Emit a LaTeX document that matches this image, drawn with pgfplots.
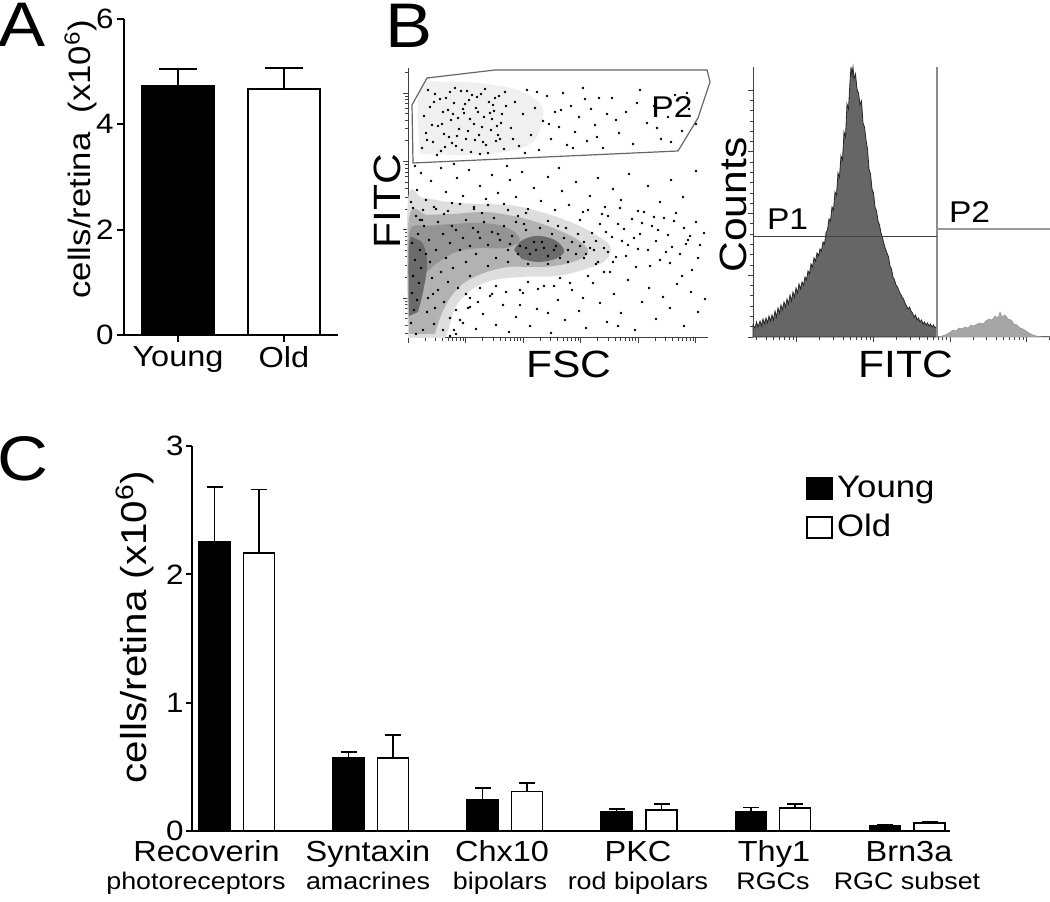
\documentclass[border=0pt]{standalone}
\usepackage{pgfplots}
\pgfplotsset{compat=1.18}
\usepackage{fontspec}
\setmainfont[FakeStretch=1.12]{Liberation Sans}
\newcommand{\fs}[1]{\fontsize{#1}{#1}\selectfont}
\begin{document}
\begin{tikzpicture}
\useasboundingbox (0pt,0pt) rectangle (525pt,450.5pt);
% ---------------- Panel A ----------------
\begin{axis}[at={(62pt,283pt)}, anchor=south west, scale only axis,
  width=107pt, height=158pt, xmin=0, xmax=214, ymin=0, ymax=6,
  axis lines=left, axis line style={-, line width=1pt},
  tick align=outside, major tick length=3.5pt, tick style={line width=1pt, black},
  ytick={0,2,4,6}, xtick={54,160}, xticklabels={Young,Old},
  /pgf/number format/assume math mode=true,
  yticklabel style={font=\fs{14}, inner sep=1.5pt},
  xticklabel style={font=\fs{14.5}, inner sep=2pt},
  ybar, bar width=36pt, bar shift=0pt, clip=false]
\addplot[fill=black, draw=black, line width=1pt,
  error bars/.cd, y dir=plus, y explicit, error bar style={line width=1pt},
  error mark options={rotate=90, mark size=9.5pt, line width=1pt}]
  coordinates {(54,4.733) +- (0,0.317)};
\addplot[fill=white, draw=black, line width=1pt,
  error bars/.cd, y dir=plus, y explicit, error bar style={line width=1pt},
  error mark options={rotate=90, mark size=9.5pt, line width=1pt}]
  coordinates {(160,4.665) +- (0,0.405)};
\end{axis}
\node[font=\fs{31.5}, anchor=base] at (11.25pt,427pt) {A};
\node[rotate=90, anchor=base, font=\fs{15.5}] at (45pt,371pt) {cells/retina\ \ (x10\textsuperscript{6})};
% ---------------- Panel B: scatter ----------------
\begin{axis}[at={(204pt,281.5pt)}, anchor=south west, scale only axis,
  width=150pt, height=135pt, xmin=0, xmax=300, ymin=0, ymax=270,
  axis lines=left, axis line style={-, line width=0.5pt, black!75},
  tick align=outside, major tick length=2.5pt, minor tick length=1.3pt,
  tick style={line width=0.4pt, black!75},
  xtick={0,57.5,115,172.5,230,287.5},
  minor xtick={17.3,27.4,34.6,40.2,44.7,48.6,51.9,54.9,74.8,84.9,92.1,97.7,102.2,106.1,109.4,112.4,132.3,142.4,149.6,155.2,159.7,163.6,166.9,169.9,189.8,199.9,207.1,212.7,217.2,221.1,224.4,227.4,247.3,257.4,264.6,270.2,274.7,278.6,281.9,284.9},
  ytick={40,108.3,176.6,244.9},
  minor ytick={4.3,12.8,19.4,24.8,29.4,33.4,36.9,60.6,72.6,81.1,87.7,93.1,97.7,101.7,105.2,128.9,140.9,149.4,156.0,161.4,166.0,170.0,173.5,197.2,209.2,217.7,224.3,229.7,234.3,238.3,241.8,265.5},
  xticklabels={}, yticklabels={}, clip=false]
% density envelopes of the event cloud
\addplot[smooth, tension=0.6, fill=black!6, draw=none] coordinates {(12,184) (12,250) (40,256) (80,254) (115,246) (135,228) (125,196) (90,185) (50,183)} -- cycle;
\addplot[smooth, tension=0.6, fill=black!13, draw=none] coordinates {(0,0) (0,138) (15,140) (40,136) (70,134) (100,133) (130,127) (160,117) (185,105) (202,92) (198,78) (178,69) (148,62) (112,61) (82,57) (62,47) (47,30) (41,10) (37,0)} -- cycle;
\addplot[smooth, tension=0.6, fill=black!30, draw=none] coordinates {(1,4) (1,120) (20,123) (45,124) (75,126) (100,123) (125,117) (150,108) (170,98) (180,87) (170,78) (146,72) (120,71) (100,71) (76,65) (56,55) (42,40) (32,20) (27,4)} -- cycle;
\addplot[smooth, tension=0.6, fill=black!42, draw=none] coordinates {(2,60) (2,108) (20,112) (45,114) (75,115) (100,110) (112,98) (98,90) (72,90) (48,86) (28,74) (15,62)} -- cycle;
\addplot[smooth, tension=0.6, fill=black!58, draw=none] coordinates {(106,88) (113,97) (127,102) (142,100) (152,94) (156,86) (147,79) (130,76) (114,79)} -- cycle;
\addplot[smooth, tension=0.6, fill=black!58, draw=none] coordinates {(1,22) (1,94) (8,99) (16,92) (19,72) (15,46) (10,26)} -- cycle;
% events inside the cloud
\addplot[only marks, mark=*, mark size=0.4pt, mark options={draw=none, fill=black!80}] table[row sep=\\] {x y\\
3 15\\ 6 28\\ 4 45\\ 9 38\\ 5 62\\ 11 55\\ 7 78\\ 13 70\\ 4 95\\ 10 104\\ 16 112\\ 21 98\\ 18 84\\ 24 60\\ 20 40\\ 27 30\\ 30 48\\ 33 66\\ 28 88\\ 35 104\\ 38 80\\ 42 95\\ 45 70\\ 40 56\\ 48 108\\ 52 88\\ 55 100\\ 58 76\\ 62 92\\ 65 110\\ 68 84\\ 72 100\\ 76 116\\ 80 93\\ 84 106\\ 88 80\\ 92 98\\ 96 112\\ 100 88\\ 104 102\\ 108 116\\ 112 92\\ 118 108\\ 122 84\\ 126 96\\ 132 110\\ 136 90\\ 140 82\\ 144 104\\ 148 92\\ 152 80\\ 156 100\\ 160 88\\ 164 96\\ 168 84\\ 172 92\\ 176 80\\ 160 76\\ 140 74\\ 120 74\\ 100 76\\ 80 72\\ 62 62\\ 50 50\\ 36 36\\ 26 14\\ 15 8\\ 8 4\\ 19 26\\ 25 44\\ 14 118\\ 30 116\\ 58 118\\ 86 120\\ 116 114\\ 128 88\\ 134 96\\ 118 90\\ 146 88\\ 110 84\\ 102 94\\ 90 104\\ 70 106\\ 44 112\\ 22 76\\ 12 88\\
};
% gate events
\addplot[only marks, mark=*, mark size=0.35pt, mark options={draw=none, fill=black!55}] table[row sep=\\] {x y\\
14 190\\ 18 205\\ 22 231\\ 25 196\\ 27 244\\ 30 212\\ 33 187\\ 35 226\\ 38 240\\ 41 201\\ 43 218\\ 46 235\\ 48 192\\ 51 209\\ 53 247\\ 56 225\\ 58 199\\ 61 238\\ 63 186\\ 66 214\\ 68 230\\ 71 203\\ 73 244\\ 76 221\\ 78 193\\ 81 236\\ 83 208\\ 86 227\\ 88 197\\ 91 242\\ 93 215\\ 96 189\\ 98 232\\ 16 222\\ 20 248\\ 24 213\\ 29 183\\ 32 239\\ 36 204\\ 40 228\\ 44 195\\ 47 250\\ 50 220\\ 54 188\\ 57 234\\ 60 207\\ 64 243\\ 67 198\\ 70 226\\ 74 211\\ 77 249\\ 80 185\\ 84 219\\ 87 240\\ 90 203\\ 94 224\\ 97 246\\ 19 198\\ 26 236\\ 34 214\\ 42 246\\ 49 202\\ 55 229\\ 62 219\\ 69 241\\ 75 196\\ 82 225\\ 89 212\\ 37 191\\ 45 224\\ 59 247\\ 72 184\\ 85 233\\ 92 199\\
103 210\\ 107 236\\ 111 192\\ 115 224\\ 119 248\\ 123 203\\ 127 230\\ 131 188\\ 135 217\\ 139 242\\ 143 199\\ 147 226\\ 151 211\\ 155 245\\ 159 193\\ 163 232\\ 167 206\\ 171 221\\ 175 250\\ 179 197\\ 183 229\\ 187 213\\ 191 240\\ 195 190\\ 199 224\\ 105 199\\ 117 185\\ 129 246\\ 141 214\\ 153 228\\ 165 190\\ 177 239\\ 189 201\\
204 240\\ 211 205\\ 218 226\\ 225 194\\ 232 248\\ 239 215\\ 246 232\\ 253 199\\ 260 221\\ 267 243\\ 274 207\\ 281 229\\ 288 214\\ 208 218\\ 229 235\\ 249 210\\ 263 196\\ 279 245\\
};
% other sparse events
\addplot[only marks, mark=*, mark size=0.35pt, mark options={draw=none, fill=black!65}] table[row sep=\\] {x y\\
5 130\\ 9 148\\ 13 165\\ 18 138\\ 23 157\\ 28 129\\ 33 170\\ 38 146\\ 44 135\\ 49 160\\ 55 142\\ 61 168\\ 66 131\\ 72 152\\ 78 139\\ 84 163\\ 90 145\\ 96 134\\ 102 158\\ 108 141\\ 114 166\\ 120 129\\ 126 150\\ 133 137\\ 140 161\\ 147 128\\ 154 147\\ 161 133\\ 168 156\\ 175 126\\ 182 142\\ 190 160\\ 197 131\\ 205 149\\ 213 138\\ 221 164\\ 230 127\\ 240 152\\ 252 136\\ 263 158\\ 275 141\\ 288 167\\ 7 172\\ 46 174\\ 99 172\\ 151 170\\
172 118\\ 176 96\\ 180 128\\ 184 105\\ 188 74\\ 192 114\\ 196 90\\ 200 122\\ 204 101\\ 208 81\\ 212 130\\ 216 109\\ 220 93\\ 224 119\\ 228 71\\ 232 104\\ 236 126\\ 240 88\\ 244 112\\ 248 97\\ 252 78\\ 256 120\\ 260 103\\ 264 91\\ 268 125\\ 272 84\\ 276 110\\ 280 98\\ 284 68\\ 288 116\\ 292 93\\ 296 105\\ 186 88\\ 194 124\\ 202 66\\ 210 114\\ 218 82\\ 226 100\\ 234 115\\ 242 72\\ 250 108\\ 258 86\\ 266 117\\ 274 62\\ 282 102\\ 290 80\\ 178 84\\ 198 106\\ 214 97\\ 230 89\\ 246 121\\ 262 75\\ 278 94\\
35 8\\ 42 20\\ 48 4\\ 55 15\\ 62 31\\ 68 9\\ 75 24\\ 82 42\\ 88 13\\ 95 33\\ 101 6\\ 108 21\\ 115 45\\ 122 12\\ 129 29\\ 136 52\\ 143 5\\ 150 38\\ 157 18\\ 164 48\\ 171 27\\ 178 10\\ 185 55\\ 192 35\\ 199 16\\ 206 44\\ 213 25\\ 220 58\\ 227 8\\ 234 36\\ 241 50\\ 248 19\\ 255 41\\ 262 30\\ 269 54\\ 276 12\\ 283 46\\ 290 26\\ 297 39\\ 58 44\\ 72 50\\ 112 33\\ 140 25\\ 175 40\\ 210 12\\
8 122\\ 15 128\\ 26 131\\ 40 127\\ 52 134\\ 66 129\\ 80 133\\ 100 128\\ 118 125\\ 140 117\\ 158 110\\ 170 104\\ 188 97\\ 200 86\\ 205 76\\ 196 66\\ 180 62\\ 162 55\\ 146 52\\ 130 49\\ 112 48\\ 98 46\\ 84 44\\ 70 36\\ 60 30\\ 52 18\\ 46 8\\ 42 2\\ 3 136\\ 12 118\\ 36 124\\ 74 125\\ 110 122\\ 150 112\\ 182 90\\ 190 76\\ 152 60\\ 120 56\\ 88 52\\ 62 40\\ 48 28\\
};
% gate P2
\addplot[black!60, line width=0.6pt] coordinates {(4,233) (19,260) (87,268) (299,268) (302,256) (290,220) (270,187) (5,175)} -- cycle;
\end{axis}
\node[font=\fs{31.5}, anchor=base] at (204.5pt,426.5pt) {B};
\node[font=\fs{15}, anchor=base] at (336pt,391.5pt) {P2};
\node[rotate=90, anchor=base, font=\fs{19}] at (200pt,350pt) {FITC};
\node[anchor=base, font=\fs{19}] at (284.5pt,261.5pt) {FSC};
% ---------------- Panel B: histogram ----------------
\begin{axis}[at={(376.5pt,282pt)}, anchor=south west, scale only axis,
  width=148.5pt, height=135pt, xmin=0, xmax=297, ymin=0, ymax=270,
  axis lines=left, axis line style={-, line width=0.5pt, black!75},
  tick align=outside, major tick length=2.5pt, minor tick length=1.3pt,
  tick style={line width=0.4pt, black!75},
  xtick={43.7,120.3,197,273.7},
  minor xtick={3.6,13.2,20.6,26.7,31.8,36.3,40.2,66.8,80.3,89.9,97.3,103.4,108.5,113.0,116.9,143.4,156.9,166.5,173.9,180.0,185.1,189.6,193.5,220.1,233.6,243.2,250.6,256.7,261.8,266.3,270.2,296.8},
  ytick={0,61.7,123.4,185.1,246.8}, minor y tick num=5,
  xticklabels={}, yticklabels={}, clip=false]
\addplot[fill=black!60, draw=black!85, line width=0.4pt] coordinates {(0,0) (0,12) (2,9) (3.5,15) (5,10) (7,16) (8.5,11) (10,18) (11.5,13) (13,19) (14.5,14) (16,21) (17.5,16) (19,22) (20.5,17) (22,26) (23.5,20) (25,29) (26.5,24) (28,32) (29.5,27) (31,35) (32.5,30) (34,38) (35.5,33) (37,42) (38.5,36) (40,45) (41.5,40) (43,49) (44.5,44) (46,53) (47.5,48) (49,55) (50.5,52) (52,60) (53.5,57) (55,66) (56.5,63) (58,73) (59.5,70) (61,79) (62.5,76) (64,84) (65.5,81) (67,88) (68.5,86) (70,95) (71.5,93) (73,104) (74.5,107) (76,118) (77.5,116) (79,130) (80.5,127) (82,145) (83.5,142) (85,164) (86.5,160) (88,181) (89.5,177) (91,205) (92.5,200) (94,233) (95.5,228) (97,255) (98,270) (99,262) (100,270) (101,258) (102.5,263) (104,248) (105.5,244) (107,232) (108.5,236) (110,214) (111.5,210) (113,197) (114.5,188) (116,168) (117.5,163) (119,148) (120.5,144) (122,130) (123.5,126) (125,116) (126.5,112) (128,104) (129.5,99) (131,93) (132.5,88) (134,84) (135.5,80) (137,71) (138.5,68) (140,60) (141.5,57) (143,52) (144.5,50) (146,46) (147.5,43) (149,40) (150.5,38) (152,34) (153.5,31) (155,28) (156.5,30) (158,26) (159.5,24) (161,20) (162.5,22) (164,17) (165.5,19) (167,15) (168.5,17) (170,13) (171.5,15) (173,12) (174.5,14) (176,11) (177.5,13) (179,10) (180.5,12) (182,9) (184,11) (184,0)} -- cycle;
\addplot[fill=black!35, draw=black!40, line width=0.3pt] coordinates {(184,0) (188,0.5) (192,2) (196,4) (200,7) (203,6) (206,9) (209,8) (212,10) (215,9) (218,12) (221,11) (224,13) (227,14) (230,13) (233,16) (236,18) (239,17) (242,21) (245,19) (247,25) (249,20) (252,22) (255,18) (258,17) (261,13) (264,12) (267,9) (270,8) (273,6) (276,4) (280,2) (285,0.5) (290,0) (297,0)} -- cycle;
\addplot[black!45, line width=0.7pt] coordinates {(184,0) (184,270)};
\addplot[black!75, line width=0.5pt] coordinates {(0,100) (184,100)};
\addplot[black!40, line width=0.9pt] coordinates {(184,108) (297,108)};
\end{axis}
\node[font=\fs{15}, anchor=base west] at (380pt,335.5pt) {P1};
\node[font=\fs{15}, anchor=base west] at (471pt,339pt) {P2};
\node[rotate=90, anchor=base, font=\fs{19}] at (373pt,348pt) {Counts};
\node[anchor=base, font=\fs{19}] at (453pt,261.5pt) {FITC};
% ---------------- Panel C ----------------
\begin{axis}[at={(96pt,35pt)}, anchor=south west, scale only axis,
  width=379pt, height=192.5pt, xmin=0, xmax=758, ymin=0, ymax=3,
  axis lines=left, axis line style={-, line width=1pt},
  tick align=outside, major tick length=3pt, tick style={line width=1pt, black},
  ytick={0,1,2,3}, xtick=\empty,
  /pgf/number format/assume math mode=true,
  yticklabel style={font=\fs{14}, inner sep=1pt},
  ybar, bar width=15.5pt, bar shift=0pt, clip=false,
  legend style={at={(axis cs:614,2.8)}, anchor=north west, draw=none, fill=none,
    inner sep=0pt, font=\fs{15.5}, row sep=3pt, cells={anchor=west}},
  legend image code/.code={\draw[#1, line width=0.9pt] (0pt,-5.25pt) rectangle (12.5pt,5.25pt);}]
\addplot[fill=black, draw=black, line width=0.8pt,
  error bars/.cd, y dir=plus, y explicit, error bar style={line width=0.8pt},
  error mark options={rotate=90, mark size=4pt, line width=0.8pt}]
  coordinates {(22.5,2.25) +- (0,0.43) (156.5,0.574) +- (0,0.042) (290.5,0.244) +- (0,0.089) (424.5,0.153) +- (0,0.018) (559,0.150) +- (0,0.032) (693,0.044) +- (0,0.008)};
\addlegendentry{Young}
\addplot[fill=white, draw=black, line width=0.8pt,
  error bars/.cd, y dir=plus, y explicit, error bar style={line width=0.8pt},
  error mark options={rotate=90, mark size=4pt, line width=0.8pt}]
  coordinates {(67,2.165) +- (0,0.495) (201,0.567) +- (0,0.181) (335,0.309) +- (0,0.063) (469.5,0.164) +- (0,0.046) (603,0.177) +- (0,0.033) (737.5,0.062) +- (0,0.013)};
\addlegendentry{Old}
\end{axis}
\node[font=\fs{31.5}, anchor=base] at (11.5pt,210pt) {C};
\node[rotate=90, anchor=base, font=\fs{18}] at (73pt,137pt) {cells/retina (x10\textsuperscript{6})};
\begin{scope}[font=\fs{14.5}]
\node[anchor=base] at (103.3pt,20pt) {Recoverin};
\node[anchor=base] at (184pt,20pt) {Syntaxin};
\node[anchor=base] at (251pt,20pt) {Chx10};
\node[anchor=base] at (319pt,20pt) {PKC};
\node[anchor=base] at (387pt,20pt) {Thy1};
\node[anchor=base] at (454.5pt,20pt) {Brn3a};
\end{scope}
\begin{scope}[font=\fs{12}]
\node[anchor=base] at (98pt,6pt) {photoreceptors};
\node[anchor=base] at (184pt,6pt) {amacrines};
\node[anchor=base] at (250pt,6pt) {bipolars};
\node[anchor=base] at (319pt,6pt) {rod bipolars};
\node[anchor=base] at (386.5pt,6pt) {RGCs};
\node[anchor=base] at (453.5pt,6pt) {RGC subset};
\end{scope}
\end{tikzpicture}
\end{document}
